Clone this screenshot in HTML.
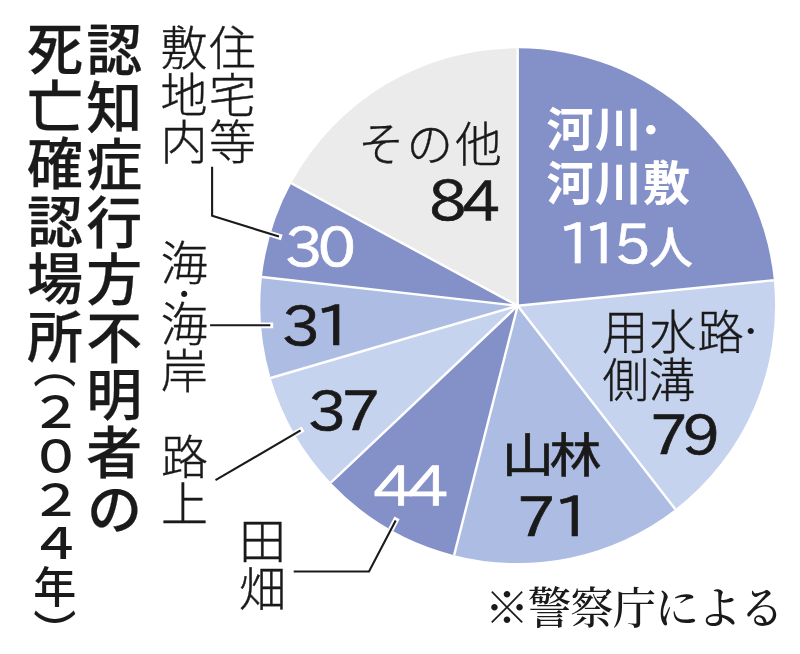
<!DOCTYPE html>
<html lang="ja">
<head>
<meta charset="utf-8">
<title>認知症行方不明者の死亡確認場所（2024年）</title>
<style>
html,body{margin:0;padding:0;background:#fff;}
body{width:800px;height:654px;position:relative;overflow:hidden;color:#1a1a1a;
  font-family:"Liberation Sans","Noto Sans CJK JP",sans-serif;}
svg.chart{position:absolute;left:0;top:0;}
.t{position:absolute;white-space:nowrap;line-height:1;margin:0;padding:0;}
.v{writing-mode:vertical-rl;text-orientation:upright;}
.title{font-weight:500;font-size:56px;letter-spacing:1.5px;-webkit-text-stroke:0.25px #1a1a1a;}
.sub{font-weight:500;font-size:43px;letter-spacing:0.7px;}
.lab{font-weight:300;font-size:46.5px;letter-spacing:-0.2px;-webkit-text-stroke:0.4px currentColor;}
.v.lab{font-size:47px;letter-spacing:-0.3px;}
.num{font-family:"IPAPGothic","Liberation Sans",sans-serif;font-size:56px;font-weight:400;letter-spacing:-5px;transform-origin:0 0;transform:scaleX(1.1);-webkit-text-stroke:0.7px currentColor;}
.w{color:#fff;}
.dot{font-size:.7em;-webkit-text-stroke:0;}
.v .dot{margin:-9.2px 0;}
.h .dot{margin:0 -8.4px;position:relative;top:-5.3px;}
.fw{display:inline-block;transform:scale(1.23,1.02);}
.note{font-family:"Liberation Serif","Noto Serif CJK JP","Noto Serif CJK SC",serif;font-size:44px;font-weight:500;letter-spacing:-1.5px;}
</style>
</head>
<body>
<svg class="chart" width="800" height="654" viewBox="0 0 800 654">
<defs><clipPath id="pc"><circle cx="517.7" cy="305.7" r="257.4"/></clipPath></defs>
<path d="M517.7,305.7 L517.70,48.30 A257.4,257.4 0 0 1 773.84,280.21 Z" fill="#8490c8"/>
<path d="M517.7,305.7 L773.84,280.21 A257.4,257.4 0 0 1 675.32,509.20 Z" fill="#c5d3ee"/>
<path d="M517.7,305.7 L675.32,509.20 A257.4,257.4 0 0 1 454.13,555.13 Z" fill="#adbce2"/>
<path d="M517.7,305.7 L454.13,555.13 A257.4,257.4 0 0 1 330.81,482.69 Z" fill="#8490c8"/>
<path d="M517.7,305.7 L330.81,482.69 A257.4,257.4 0 0 1 270.66,378.00 Z" fill="#c5d3ee"/>
<path d="M517.7,305.7 L270.66,378.00 A257.4,257.4 0 0 1 261.91,276.94 Z" fill="#adbce2"/>
<path d="M517.7,305.7 L261.91,276.94 A257.4,257.4 0 0 1 291.30,183.23 Z" fill="#8490c8"/>
<path d="M517.7,305.7 L291.30,183.23 A257.4,257.4 0 0 1 517.70,48.30 Z" fill="#ebebeb"/>
<g stroke="#fff" stroke-width="2.4" stroke-linecap="butt">
<line x1="517.7" y1="305.7" x2="517.70" y2="48.30"/>
<line x1="517.7" y1="305.7" x2="773.84" y2="280.21"/>
<line x1="517.7" y1="305.7" x2="675.32" y2="509.20"/>
<line x1="517.7" y1="305.7" x2="454.13" y2="555.13"/>
<line x1="517.7" y1="305.7" x2="330.81" y2="482.69"/>
<line x1="517.7" y1="305.7" x2="270.66" y2="378.00"/>
<line x1="517.7" y1="305.7" x2="261.91" y2="276.94"/>
<line x1="517.7" y1="305.7" x2="291.30" y2="183.23"/>
</g>
<g clip-path="url(#pc)" stroke="#fff" stroke-width="5.8" fill="none" stroke-linecap="square">
<polyline points="212.1,166.8 212.1,215.7 279,236.6"/>
<polyline points="210.1,325.3 270.3,325.3"/>
<polyline points="215.5,480.2 300.6,430.4"/>
<polyline points="293.7,571.5 369,571.5 395.7,520.5"/>
</g>
<g stroke="#1a1a1a" stroke-width="2.1" fill="none" stroke-linejoin="miter">
<polyline points="212.1,166.8 212.1,215.7 279,236.6"/>
<polyline points="210.1,325.3 270.3,325.3"/>
<polyline points="215.5,480.2 300.6,430.4"/>
<polyline points="293.7,571.5 369,571.5 395.7,520.5"/>
</g>
</svg>

<div class="t v title" id="t1" style="left:80.7px;top:20.5px;">認知症行方不明者の</div>
<div class="t v title" id="t2" style="left:21.5px;top:19.5px;">死亡確認場所</div>
<div class="t v sub" id="t2s" style="left:28.8px;top:346.6px;"><span id="par1" style="position:relative;top:-1.5px;">（</span><span class="fw" id="d1">２</span><span class="fw" id="d2">０</span><span class="fw" id="d3">２</span><span class="fw" id="d4">４</span><span id="nen">年</span><span id="par2">）</span></div>

<div class="t v lab" id="l1a" style="left:205px;top:23.5px;">住宅等</div>
<div class="t v lab" id="l1b" style="left:156.5px;top:23.5px;">敷地内</div>
<div class="t v lab" id="l2" style="left:156.7px;top:239.3px;">海<span class="dot" id="dv" style="position:relative;left:0.9px;">・</span>海岸</div>
<div class="t v lab" id="l3" style="left:157px;top:433px;">路上</div>
<div class="t v lab" id="l4" style="left:235px;top:516.7px;letter-spacing:0.8px;">田畑</div>

<div class="t lab" id="p1" style="left:358px;top:121.5px;letter-spacing:2.1px;">その他</div>
<div class="t num" id="n84" style="left:428.7px;top:171.5px;transform:scaleX(1.065);letter-spacing:-4px;">84</div>

<div class="t lab w h" id="k1" style="left:546.5px;top:105.5px;font-weight:700;-webkit-text-stroke:0;font-size:47px;letter-spacing:1.3px;">河川<span class="dot" id="dk" style="font-size:.78em;top:-1.9px;margin-left:-10.5px;">・</span></div>
<div class="t lab w" id="k2" style="left:546.5px;top:159.5px;font-weight:700;-webkit-text-stroke:0;font-size:47px;letter-spacing:1.3px;">河川敷</div>
<div class="t num w" id="n115" style="left:558.3px;top:215px;transform:scaleX(1.03);"><span style="letter-spacing:-10px">1</span><span style="letter-spacing:-6px">1</span>5</div>
<div class="t lab w" id="k3" style="left:649px;top:226.5px;font-size:44px;font-weight:500;">人</div>

<div class="t lab h" id="y1" style="left:602px;top:309.5px;letter-spacing:1.3px;">用水路<span class="dot" id="dy" style="margin-left:-11px;">・</span></div>
<div class="t lab" id="y2" style="left:602.5px;top:357.5px;">側溝</div>
<div class="t num" id="n79" style="left:649.5px;top:406px;transform:scaleX(1.076);">79</div>

<div class="t lab" id="s1" style="left:502.3px;top:431.5px;font-weight:400;-webkit-text-stroke:0.7px currentColor;font-size:47px;letter-spacing:-3.6px;transform:scaleX(1.1);transform-origin:0 0;">山林</div>
<div class="t num" id="n71" style="left:516.5px;top:488px;letter-spacing:-1.8px;">71</div>

<div class="t num w" id="n44" style="left:373px;top:456.5px;transform:scaleX(1.146);">44</div>
<div class="t num" id="n37" style="left:308.2px;top:381.5px;transform:scaleX(1.105);">37</div>
<div class="t num" id="n31" style="left:282.2px;top:296.5px;">31</div>
<div class="t num w" id="n30" style="left:285.2px;top:218.2px;transform:scaleX(1.085);">30</div>

<div class="t note" id="note" style="left:485px;top:588px;">※警察庁による</div>
</body>
</html>
